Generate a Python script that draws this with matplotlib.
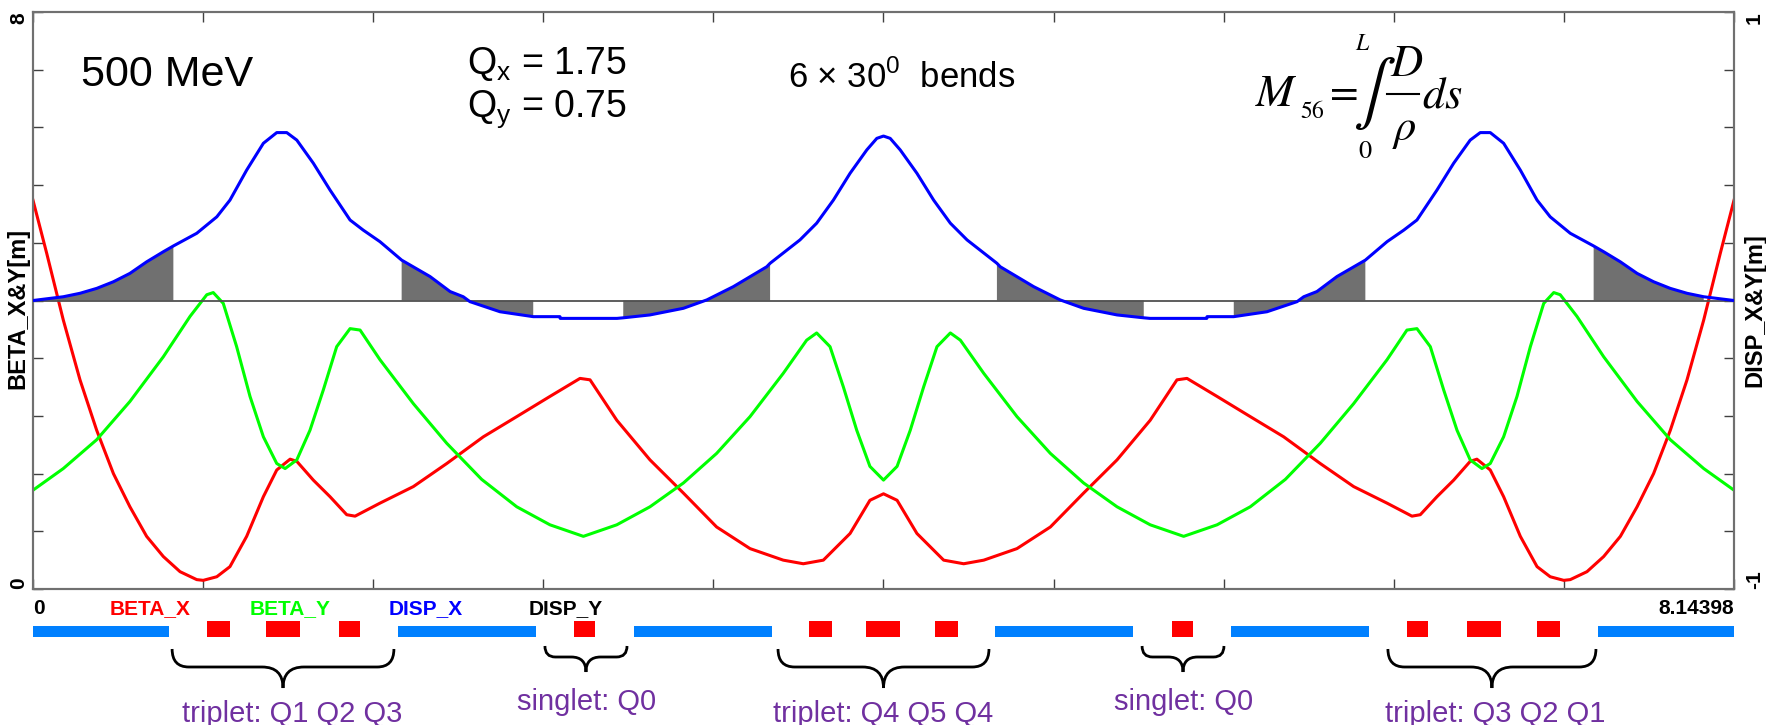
import numpy as np
import matplotlib
matplotlib.use('Agg')
import matplotlib.pyplot as plt
from matplotlib.patches import Rectangle, PathPatch
from matplotlib.path import Path
from matplotlib.lines import Line2D

# ring length [m]
L = 8.14398

# BETA_X [m]
s_bx = [0.000, 0.066, 0.145, 0.225, 0.305, 0.385, 0.464, 0.544, 0.624, 0.704, 0.784, 0.815,
        0.880, 0.943, 1.023, 1.103, 1.167, 1.231, 1.263, 1.342, 1.422, 1.502, 1.542, 1.661,
        1.821, 1.981, 2.156, 2.316, 2.475, 2.619, 2.667, 2.795, 2.954, 3.114, 3.273, 3.433,
        3.592, 3.688, 3.784, 3.912, 4.007, 4.072, 4.137, 4.232, 4.360, 4.456, 4.552, 4.711,
        4.871, 5.030, 5.190, 5.349, 5.477, 5.525, 5.669, 5.828, 5.988, 6.163, 6.323, 6.483,
        6.602, 6.642, 6.722, 6.802, 6.881, 6.913, 6.977, 7.041, 7.121, 7.201, 7.264, 7.329,
        7.360, 7.440, 7.520, 7.600, 7.680, 7.759, 7.839, 7.919, 7.999, 8.078, 8.144]
beta_x = [5.39, 4.65, 3.73, 2.90, 2.20, 1.60, 1.14, 0.73, 0.45, 0.24, 0.13, 0.12,
          0.17, 0.31, 0.73, 1.28, 1.65, 1.80, 1.77, 1.51, 1.28, 1.03, 1.01, 1.19,
          1.42, 1.74, 2.11, 2.39, 2.67, 2.92, 2.90, 2.34, 1.79, 1.33, 0.86, 0.56,
          0.40, 0.35, 0.40, 0.77, 1.23, 1.32, 1.23, 0.77, 0.40, 0.35, 0.40, 0.56,
          0.86, 1.33, 1.79, 2.34, 2.90, 2.92, 2.67, 2.39, 2.11, 1.74, 1.42, 1.19,
          1.01, 1.03, 1.28, 1.51, 1.77, 1.80, 1.65, 1.28, 0.73, 0.31, 0.17, 0.12,
          0.13, 0.24, 0.45, 0.73, 1.14, 1.60, 2.20, 2.90, 3.73, 4.65, 5.39]

# BETA_Y [m]
s_by = [0.000, 0.145, 0.305, 0.464, 0.624, 0.752, 0.832, 0.863, 0.911, 0.975, 1.039, 1.103,
        1.167, 1.207, 1.263, 1.326, 1.390, 1.454, 1.518, 1.566, 1.661, 1.821, 1.981, 2.148,
        2.316, 2.475, 2.635, 2.795, 2.954, 3.114, 3.273, 3.433, 3.592, 3.704, 3.752, 3.816,
        3.880, 3.944, 4.007, 4.072, 4.137, 4.200, 4.264, 4.328, 4.392, 4.440, 4.552, 4.711,
        4.871, 5.030, 5.190, 5.349, 5.509, 5.669, 5.828, 5.996, 6.163, 6.323, 6.483, 6.578,
        6.626, 6.690, 6.754, 6.818, 6.881, 6.937, 6.977, 7.041, 7.105, 7.169, 7.233, 7.281,
        7.312, 7.392, 7.520, 7.680, 7.839, 7.999, 8.144]
beta_y = [1.37, 1.67, 2.07, 2.60, 3.22, 3.78, 4.08, 4.11, 3.96, 3.36, 2.67, 2.11,
          1.74, 1.67, 1.79, 2.20, 2.76, 3.36, 3.61, 3.59, 3.18, 2.57, 2.02, 1.52,
          1.14, 0.89, 0.73, 0.89, 1.14, 1.47, 1.88, 2.39, 2.99, 3.45, 3.55, 3.36,
          2.80, 2.20, 1.70, 1.51, 1.70, 2.20, 2.80, 3.36, 3.55, 3.45, 2.99, 2.39,
          1.88, 1.47, 1.14, 0.89, 0.73, 0.89, 1.14, 1.52, 2.02, 2.57, 3.18, 3.59,
          3.61, 3.36, 2.76, 2.20, 1.79, 1.67, 1.74, 2.11, 2.67, 3.36, 3.96, 4.11,
          4.08, 3.78, 3.22, 2.60, 2.07, 1.67, 1.37]

# DISP_X [m]
s_dx = [0.000, 0.145, 0.225, 0.305, 0.385, 0.464, 0.544, 0.624, 0.672, 0.784, 0.880, 0.943,
        1.023, 1.103, 1.167, 1.215, 1.263, 1.342, 1.422, 1.518, 1.581, 1.661, 1.765, 1.901,
        1.997, 2.060, 2.092, 2.236, 2.395, 2.523, 2.524, 2.796, 2.826, 2.954, 3.114, 3.226,
        3.353, 3.513, 3.529, 3.672, 3.752, 3.832, 3.912, 3.992, 4.040, 4.072, 4.104, 4.152,
        4.232, 4.312, 4.392, 4.472, 4.615, 4.631, 4.791, 4.918, 5.030, 5.190, 5.318, 5.348,
        5.620, 5.621, 5.749, 5.908, 6.052, 6.084, 6.147, 6.243, 6.379, 6.483, 6.563, 6.626,
        6.722, 6.802, 6.881, 6.929, 6.977, 7.041, 7.121, 7.201, 7.264, 7.360, 7.472, 7.520,
        7.600, 7.680, 7.759, 7.839, 7.919, 7.999, 8.144]
disp_x = [0.000, 0.013, 0.025, 0.042, 0.065, 0.094, 0.134, 0.169, 0.189, 0.233, 0.290, 0.348,
          0.452, 0.545, 0.582, 0.582, 0.556, 0.476, 0.383, 0.279, 0.244, 0.204, 0.140, 0.083,
          0.031, 0.013, -0.004, -0.039, -0.056, -0.056, -0.062, -0.062, -0.060, -0.050, -0.027, 0.002,
          0.048, 0.117, 0.129, 0.210, 0.268, 0.348, 0.441, 0.522, 0.562, 0.570, 0.562, 0.522,
          0.441, 0.348, 0.268, 0.210, 0.129, 0.117, 0.048, 0.002, -0.027, -0.050, -0.060, -0.062,
          -0.062, -0.056, -0.056, -0.039, -0.004, 0.013, 0.031, 0.083, 0.140, 0.204, 0.244, 0.279,
          0.383, 0.476, 0.556, 0.582, 0.582, 0.545, 0.452, 0.348, 0.290, 0.233, 0.189, 0.169,
          0.134, 0.094, 0.065, 0.042, 0.025, 0.013, 0.000]

# bends: shaded on the dispersion curve, and blue bars in the layout
bend_fill = [(0.0, 0.672), (1.765, 2.395), (2.826, 3.529), (4.615, 5.318), (5.749, 6.379), (7.472, L)]
bend_bars = [(0.0, 0.651), (1.747, 2.406), (2.879, 3.538), (4.606, 5.265), (5.738, 6.397), (7.493, L)]
# quadrupoles
quads = [(0.832, 0.941), (1.115, 1.277), (1.464, 1.566), (2.590, 2.692), (3.717, 3.827),
         (3.990, 4.153), (4.317, 4.427), (5.452, 5.554), (6.578, 6.680), (6.867, 7.029),
         (7.203, 7.312)]
# braces under the layout and their labels
brace_spans = [(0.666, 1.728), (2.451, 2.844), (3.567, 4.577), (5.310, 5.702), (6.487, 7.483)]
brace_kind = ['triplet', 'singlet', 'triplet', 'singlet', 'triplet']
brace_labels = ['triplet: Q1 Q2 Q3', 'singlet: Q0', 'triplet: Q4 Q5 Q4', 'singlet: Q0', 'triplet: Q3 Q2 Q1']
label_x = [1.242, 2.648, 4.070, 5.508, 7.000]

legend_names = ['BETA_X', 'BETA_Y', 'DISP_X', 'DISP_Y']
legend_colors = ['#ff0000', '#00ff00', '#0000ff', '#000000']
legend_x = [0.369, 1.039, 1.704, 2.375]

W, H = 1766, 725
plt.rcParams['font.family'] = ['Liberation Sans', 'DejaVu Sans']
fig = plt.figure(figsize=(W / 100, H / 100), dpi=100)


def px(x, y):
    return x / W, 1 - y / H


ax = fig.add_axes([33 / W, 1 - 589 / H, (1734 - 33) / W, (589 - 12) / H])
axr = ax.twinx()

ax.plot(s_bx, beta_x, color='#ff0000', lw=2.2)
ax.plot(s_by, beta_y, color='#00ff00', lw=2.2)
ax.set_xlim(0, L)
ax.set_ylim(0, 8)

s_arr = np.array(s_dx)
mask = np.zeros(len(s_arr), dtype=bool)
for a, b in bend_fill:
    mask |= (s_arr >= a - 1e-9) & (s_arr <= b + 1e-9)
axr.fill_between(s_dx, 0, disp_x, where=mask, color='#707070', lw=0, zorder=1)
axr.axhline(0, color='#505050', lw=1.3, zorder=2)
axr.plot(s_dx, disp_x, color='#0000ff', lw=2.2, zorder=3)
axr.set_ylim(-1, 1)

ax.set_xticks(np.linspace(0, L, 11))
ax.set_yticks(np.linspace(0, 8, 11))
axr.set_yticks(np.linspace(-1, 1, 11))
ax.tick_params(direction='in', length=7, width=1, color='#404040', top=True,
               labelbottom=False, labelleft=False)
axr.tick_params(direction='in', length=7, width=1, color='#404040', labelright=False)
for a in (ax, axr):
    for sp in a.spines.values():
        sp.set_color('#707070')
        sp.set_linewidth(1.5)

bold = dict(fontweight='bold', rotation=90, transform=ax.transAxes)
ax.text(-5 / 1701, 1, '8', ha='right', va='top', fontsize=15, **bold)
ax.text(-5 / 1701, 0, '0', ha='right', va='bottom', fontsize=15, **bold)
ax.text(1 + 11 / 1701, 1, '1', ha='left', va='top', fontsize=15, **bold)
ax.text(1 + 11 / 1701, 0, '-1', ha='left', va='bottom', fontsize=15, **bold)
ax.text(-4 / 1701, 0.487, 'BETA_X&Y[m]', ha='right', va='center', fontsize=17, **bold)
ax.text(1 + 9 / 1701, 0.484, 'DISP_X&Y[m]', ha='left', va='center', fontsize=17, **bold)

# annotations inside the plot
fig.text(*px(81, 86), '500 MeV', fontsize=31, va='baseline')
fig.text(*px(467, 74), r'Q$_\mathregular{x}$ = 1.75', fontsize=27, va='baseline')
fig.text(*px(467, 117), r'Q$_\mathregular{y}$ = 0.75', fontsize=27, va='baseline')
fig.text(*px(788, 88), r'6 × 30$^\mathregular{0}$  bends', fontsize=25, va='baseline')

# M56 formula, built from pieces so the integral limits sit above and below
m = dict(math_fontfamily='stix')
fig.text(*px(1255, 106), r'$M$', fontsize=33, va='baseline', **m)
fig.text(*px(1300, 118), r'$\mathrm{56}$', fontsize=17, va='baseline', **m)
fig.text(*px(1340, 92.5), r'$=$', fontsize=30, ha='center', va='center', **m)
fig.text(*px(1374, 94), r'$\int$', fontsize=46, ha='center', va='center', **m)
fig.text(*px(1363, 50), r'$L$', fontsize=17, ha='center', va='baseline', **m)
fig.text(*px(1365, 158), r'$\mathrm{0}$', fontsize=19, ha='center', va='baseline', **m)
fig.text(*px(1407, 76), r'$D$', fontsize=32, ha='center', va='baseline', **m)
fig.add_artist(Line2D([1387 / W, 1419 / W], [1 - 94 / H] * 2, color='black', lw=1.5))
fig.text(*px(1404, 140), r'$\rho$', fontsize=32, ha='center', va='baseline', **m)
fig.text(*px(1422, 107), r'$ds$', fontsize=32, va='baseline', **m)

# lattice layout strip under the plot, y in pixel rows
ax2 = fig.add_axes([33 / W, 0, (1734 - 33) / W, (H - 589) / H])
ax2.set_xlim(0, L)
ax2.set_ylim(H, 589)
ax2.set_axis_off()

ax2.text(0, 614, '0', fontweight='bold', fontsize=15, ha='left', va='baseline')
ax2.text(L, 614, '8.14398', fontweight='bold', fontsize=15, ha='right', va='baseline')
for name, c, x in zip(legend_names, legend_colors, legend_x):
    ax2.text(x, 614, name, color=c, fontweight='bold', fontsize=15, ha='left', va='baseline')

for a, b in bend_bars:
    ax2.add_patch(Rectangle((a, 626), b - a, 11, color='#0080ff', lw=0))
for a, b in quads:
    ax2.add_patch(Rectangle((a, 621), b - a, 16, color='#ff0000', lw=0))


def brace(x0, x1, yt, ym, yb, r, rt):
    xm = (x0 + x1) / 2
    verts = [(x0, yt), (x0, ym), (x0 + r, ym), (xm - rt, ym), (xm, ym), (xm, yb),
             (xm, ym), (xm + rt, ym), (x1 - r, ym), (x1, ym), (x1, yt)]
    codes = [Path.MOVETO, Path.CURVE3, Path.CURVE3, Path.LINETO, Path.CURVE3, Path.CURVE3,
             Path.CURVE3, Path.CURVE3, Path.LINETO, Path.CURVE3, Path.CURVE3]
    return PathPatch(Path(verts, codes), fill=False, lw=2, edgecolor='black', clip_on=False)


for (a, b), kind, text, x in zip(brace_spans, brace_kind, brace_labels, label_x):
    if kind == 'triplet':
        ax2.add_patch(brace(a, b, 649, 667, 688, 0.08, 0.1))
        yb = 722
    else:
        ax2.add_patch(brace(a, b, 646, 657, 672, 0.05, 0.07))
        yb = 710
    ax2.text(x, yb, text, color='#7030a0', fontsize=21, ha='center', va='baseline', clip_on=False)

fig.savefig('out.png', dpi=100)
